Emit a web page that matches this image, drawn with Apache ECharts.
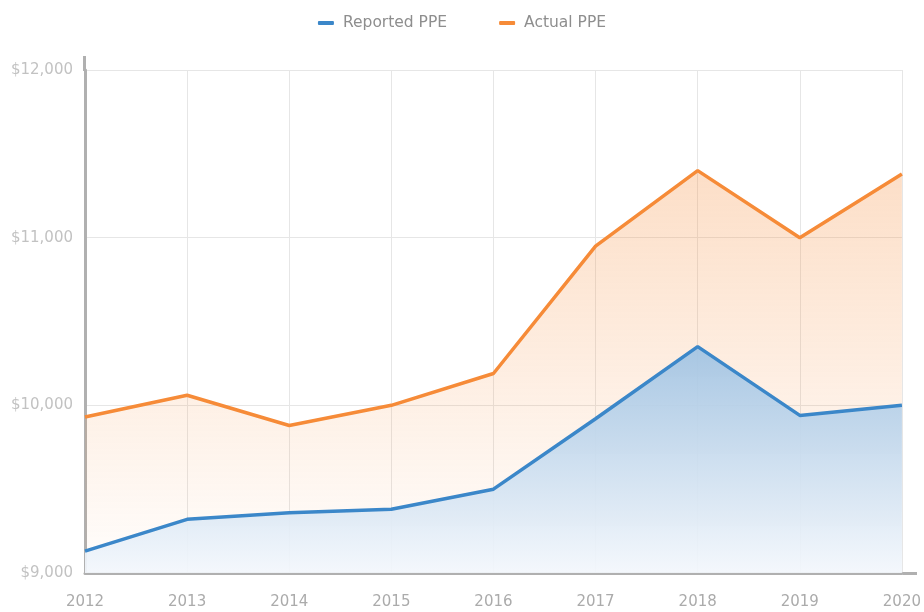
<!DOCTYPE html>
<html>
<head>
<meta charset="utf-8">
<script src="https://cdn.jsdelivr.net/npm/echarts@6/dist/echarts.min.js"></script>
<style>
  html, body { margin: 0; padding: 0; background: #fff; }
  #chart { width: 924px; height: 612px; }
</style>
</head>
<body>
<div id="chart"></div>
<script>
// 数据
const years = ["2012", "2013", "2014", "2015", "2016", "2017", "2018", "2019", "2020"];
const reportedPPE = [9130, 9320, 9360, 9380, 9500, 9920, 10350, 9940, 10000];
const actualPPE = [9930, 10060, 9880, 10000, 10190, 10950, 11400, 11000, 11380];
const yTicks = [9000, 10000, 11000, 12000];

const blue = "#3b87c9";
const orange = "#f68b38";
const font = "'DejaVu Sans', sans-serif";

const grid = { left: 85, right: 20, top: 70, bottom: 39 };

const option = {
  animation: false,
  legend: {
    top: 10,
    left: "center",
    itemGap: 52,
    itemWidth: 16,
    itemHeight: 4,
    icon: "roundRect",
    textStyle: { fontFamily: font, fontSize: 15.5, color: "#8e8e8e", padding: [0, 0, 0, 4] },
    data: ["Reported PPE", "Actual PPE"],
  },
  grid: { ...grid, containLabel: false },
  xAxis: {
    type: "category",
    boundaryGap: false,
    data: years,
    axisLine: { show: true, lineStyle: { color: "#b0b0b0", width: 3 } },
    axisTick: { show: false },
    axisLabel: { color: "#ababab", fontFamily: font, fontSize: 15, margin: 22 },
    splitLine: { show: true, lineStyle: { color: "#e6e6e6", width: 1 } },
  },
  yAxis: {
    type: "value",
    min: yTicks[0],
    max: yTicks[yTicks.length - 1],
    interval: 1000,
    axisLine: { show: true, lineStyle: { color: "#b0b0b0", width: 3 } },
    axisTick: { show: false },
    axisLabel: {
      color: "#c2c2c2",
      fontFamily: font,
      fontSize: 15,
      margin: 12,
      formatter: (v) => "$" + v.toLocaleString("en-US"),
    },
    splitLine: { show: true, lineStyle: { color: "#e6e6e6", width: 1 } },
  },
  // 坐标轴延长段
  graphic: [
    {
      type: "line",
      z: 10,
      shape: { x1: grid.left - 0.5, y1: 56, x2: grid.left - 0.5, y2: grid.top + 1 },
      style: { stroke: "#b0b0b0", lineWidth: 3 },
    },
    {
      type: "line",
      z: 10,
      shape: { x1: 924 - grid.right - 1, y1: 612 - grid.bottom + 0.5, x2: 917, y2: 612 - grid.bottom + 0.5 },
      style: { stroke: "#b0b0b0", lineWidth: 3 },
    },
  ],
  series: [
    {
      name: "Actual PPE",
      type: "line",
      data: actualPPE,
      symbol: "none",
      z: 2,
      itemStyle: { color: orange },
      lineStyle: { width: 3.5, color: orange },
      areaStyle: {
        origin: "start",
        color: new echarts.graphic.LinearGradient(0, 0, 0, 1, [
          { offset: 0, color: "rgba(246,139,56,0.4)" },
          { offset: 1, color: "rgba(246,139,56,0.02)" },
        ]),
      },
    },
    {
      name: "Reported PPE",
      type: "line",
      data: reportedPPE,
      symbol: "none",
      z: 3,
      itemStyle: { color: blue },
      lineStyle: { width: 3.5, color: blue },
      areaStyle: {
        origin: "start",
        color: new echarts.graphic.LinearGradient(0, 0, 0, 1, [
          { offset: 0, color: "#a0c3e3" },
          { offset: 1, color: "#f3f7fc" },
        ]),
        opacity: 0.92,
      },
    },
  ],
};

const myChart = echarts.init(document.getElementById("chart"));
myChart.setOption(option);
window.addEventListener("resize", () => {
  myChart.resize();
});
</script>
</body>
</html>
